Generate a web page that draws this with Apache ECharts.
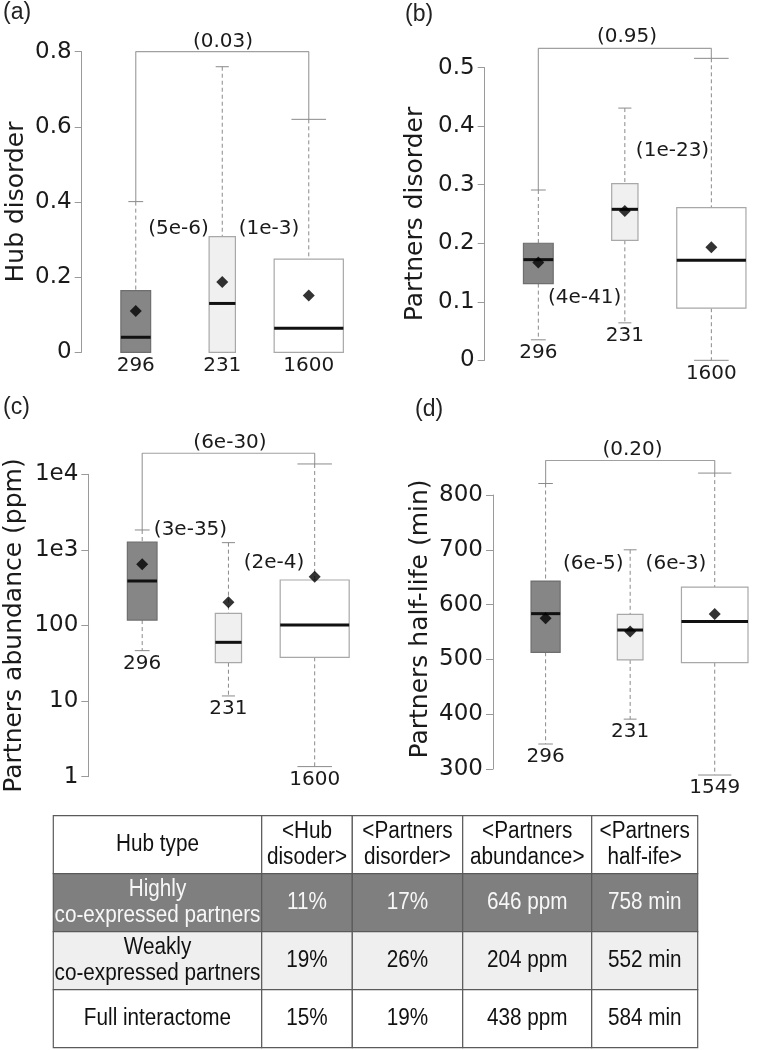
<!DOCTYPE html>
<html><head><meta charset="utf-8">
<script src="https://cdn.jsdelivr.net/npm/echarts@6/dist/echarts.min.js"></script>
<style>html,body{margin:0;padding:0;background:#fff}#c{width:757px;height:1050px}</style>
</head><body><div id="c"></div>
<script>
// ---------------- DATA ----------------
const groups = ['Highly co-expressed partners', 'Weakly co-expressed partners', 'Full interactome'];
const countsA = [296, 231, 1600];
const countsB = [296, 231, 1600];
const countsC = [296, 231, 1600];
const countsD = [296, 231, 1549];
// box stats: [lower whisker, Q1, median, Q3, upper whisker]
const hubDisorderBox = [[0, 0, 0.040, 0.164, 0.401], [0, 0, 0.130, 0.308, 0.760], [0, 0, 0.064, 0.248, 0.620]];
const hubDisorderMean = [0.110, 0.187, 0.151];
const partnersDisorderBox = [[0.035, 0.131, 0.172, 0.200, 0.291], [0.064, 0.205, 0.258, 0.302, 0.431], [0, 0.089, 0.171, 0.261, 0.516]];
const partnersDisorderMean = [0.167, 0.255, 0.193];
const partnersAbundanceBox = [[46.5, 118, 388, 1273, 1835], [11.7, 32.2, 59.9, 145, 1247], [1.36, 37.9, 101.5, 400, 13700]];
const partnersAbundanceMean = [644, 203, 443];
const partnersHalfLifeBox = [[345.6, 513, 583.5, 643, 821], [391, 499, 553.6, 582, 700], [289, 494, 569, 632, 840]];
const partnersHalfLifeMean = [575, 551, 583];
// p-value annotations: [overall bracket, group1 vs all, group2 vs all]
const pValuesA = ['(0.03)', '(5e-6)', '(1e-3)'];
const pValuesB = ['(0.95)', '(4e-41)', '(1e-23)'];
const pValuesC = ['(6e-30)', '(3e-35)', '(2e-4)'];
const pValuesD = ['(0.20)', '(6e-5)', '(6e-3)'];
const tickLabelsC = ['1', '10', '100', '1e3', '1e4'];
// table
const tableHeader = ['Hub type', '<Hub\ndisoder>', '<Partners\ndisorder>', '<Partners\nabundance>', '<Partners\nhalf-ife>'];
const tableRowNames = ['Highly\nco-expressed partners', 'Weakly\nco-expressed partners', 'Full interactome'];
const tableHubDisorder = ['11%', '19%', '15%'];
const tablePartnersDisorder = ['17%', '26%', '19%'];
const tablePartnersAbundance = ['646 ppm', '204 ppm', '438 ppm'];
const tablePartnersHalfLife = ['758 min', '552 min', '584 min'];

// ---------------- LAYOUT / STYLE ----------------
const FONT = 'DejaVu Sans';
const TFONT = 'Liberation Sans';
const boxFill = ['#868686', '#f0f0f0', '#ffffff'];
const boxStroke = ['#6e6e6e', '#a8a8a8', '#a8a8a8'];
const rowFill = ['#ffffff', '#7f7f7f', '#efefef', '#ffffff'];
const rowText = ['#111', '#f7f7f7', '#111', '#111'];

const panels = [
  { label: '(a)', labelPos: [3, 1], name: 'Hub disorder', box: hubDisorderBox, mean: hubDisorderMean, counts: countsA, p: pValuesA,
    grid: { left: 81.7, top: 51.7, width: 270.3, height: 300.6 }, xMin: 0.375, xMax: 3.5,
    y: { type: 'value', min: 0, max: 0.8, interval: 0.2 }, nameGap: 53, namePad: [0, 0, 0, 0], bracket: 0.8,
    pPos: [[2.009, 0.826], [1.495, 0.328], [2.541, 0.328]] },
  { label: '(b)', labelPos: [405, 3], name: 'Partners disorder', box: partnersDisorderBox, mean: partnersDisorderMean, counts: countsB, p: pValuesB,
    grid: { left: 484.7, top: 67.7, width: 269.9, height: 292.6 }, xMin: 0.38, xMax: 3.5,
    y: { type: 'value', min: 0, max: 0.5, interval: 0.1 }, nameGap: 57, namePad: [0, 0, 0, 0], bracket: 0.533,
    pPos: [[2.025, 0.5525], [1.534, 0.107], [2.551, 0.358]] },
  { label: '(c)', labelPos: [3, 396], name: 'Partners abundance (ppm)', box: partnersAbundanceBox, mean: partnersAbundanceMean, counts: countsC, p: pValuesC,
    grid: { left: 88.3, top: 474.3, width: 269.5, height: 302.4 }, xMin: 0.375, xMax: 3.5,
    y: { type: 'log', logBase: 10, min: 1, max: 10000 }, nameGap: 61, namePad: [0, 0, 0, 0], bracket: 19000,
    pPos: [[2.018, 25900], [1.56, 1833], [2.528, 671]] },
  { label: '(d)', labelPos: [415, 398], name: 'Partners half-life (min)', box: partnersHalfLifeBox, mean: partnersHalfLifeMean, counts: countsD, p: pValuesD,
    grid: { left: 493, top: 495, width: 269.9, height: 274 }, xMin: 0.378, xMax: 3.5,
    y: { type: 'value', min: 300, max: 800, interval: 100 }, nameGap: 60, namePad: [0, 0, 0, 26], bracket: 863,
    pPos: [[2.028, 882], [1.563, 674], [2.541, 674]] }
];
const tableGrid = { left: 53.3, top: 815.7, width: 644.4, height: 232 };
const colEdges = [0, 208.4, 299, 409.4, 538.4, 644.4];

// ---------------- BUILD ----------------
const grid = [], xAxis = [], yAxis = [], series = [], graphic = [];

function boxRender(params, api) {
  const i = params.dataIndex;
  const x = api.value(0);
  const low = api.value(1), q1 = api.value(2), med = api.value(3), q3 = api.value(4), high = api.value(5), n = api.value(6);
  const pMed = api.coord([x, med]);
  const cx = pMed[0];
  const unit = api.coord([x + 1, med])[0] - cx;
  const w = Math.sqrt(n) / 40 * 0.8 * unit;
  const yLow = api.coord([x, low])[1], yQ1 = api.coord([x, q1])[1], yQ3 = api.coord([x, q3])[1], yHigh = api.coord([x, high])[1];
  const dash = { stroke: '#8a8a8a', lineWidth: 1, lineDash: [4, 3] };
  const cap = { stroke: '#8a8a8a', lineWidth: 1 };
  return { type: 'group', children: [
    { type: 'line', shape: { x1: cx, y1: yHigh, x2: cx, y2: yQ3 }, style: dash },
    { type: 'line', shape: { x1: cx, y1: yQ1, x2: cx, y2: yLow }, style: dash },
    { type: 'line', shape: { x1: cx - w / 4, y1: yHigh, x2: cx + w / 4, y2: yHigh }, style: cap },
    { type: 'line', shape: { x1: cx - w / 4, y1: yLow, x2: cx + w / 4, y2: yLow }, style: cap },
    { type: 'rect', shape: { x: cx - w / 2, y: yQ3, width: w, height: yQ1 - yQ3 }, style: { fill: boxFill[i], stroke: boxStroke[i], lineWidth: 1.2 } },
    { type: 'line', shape: { x1: cx - w / 2, y1: pMed[1], x2: cx + w / 2, y2: pMed[1] }, style: { stroke: '#111', lineWidth: 3 } },
    { type: 'text', x: cx, y: yLow + 13, style: { text: String(n), fontFamily: FONT, fontSize: 20, fill: '#1a1a1a', align: 'center', verticalAlign: 'middle' } }
  ] };
}

panels.forEach((P, k) => {
  grid.push(P.grid);
  xAxis.push({ type: 'value', gridIndex: k, min: P.xMin, max: P.xMax, show: false });
  const ya = Object.assign({
    gridIndex: k, name: P.name, nameLocation: 'middle', nameGap: P.nameGap,
    nameTextStyle: { fontFamily: FONT, fontSize: 25, color: '#1a1a1a', padding: P.namePad },
    axisLine: { show: true, lineStyle: { color: '#9a9a9a', width: 1 } },
    axisTick: { show: true, length: 7, lineStyle: { color: '#9a9a9a' } },
    axisLabel: { fontFamily: FONT, fontSize: 23, color: '#1a1a1a', margin: 10, showMinLabel: true, showMaxLabel: true },
    splitLine: { show: false }, minorTick: { show: false }
  }, P.y);
  if (P.y.type === 'log') ya.axisLabel.formatter = v => tickLabelsC[Math.round(Math.log10(v))];
  yAxis.push(ya);
  // boxes
  series.push({ type: 'custom', xAxisIndex: k, yAxisIndex: k, renderItem: boxRender, clip: false, z: 2,
    encode: { x: 0, y: [1, 2, 3, 4, 5] },
    data: P.box.map((b, i) => [i + 1, b[0], b[1], b[2], b[3], b[4], P.counts[i]]) });
  // bracket
  series.push({ type: 'line', xAxisIndex: k, yAxisIndex: k, clip: false, symbol: 'none', showSymbol: false, silent: true, z: 1,
    lineStyle: { color: '#a0a0a0', width: 1.2 },
    data: [[1, P.box[0][4]], [1, P.bracket], [3, P.bracket], [3, P.box[2][4]]] });
  // means
  series.push({ type: 'scatter', xAxisIndex: k, yAxisIndex: k, symbol: 'diamond', symbolSize: 12, clip: false, z: 5,
    itemStyle: { color: '#000' }, data: P.mean.map((m, i) => [i + 1, m]) });
  // p-values
  series.push({ type: 'custom', xAxisIndex: k, yAxisIndex: k, clip: false, z: 6,
    data: P.pPos.map((pp, i) => [pp[0], pp[1], i]),
    renderItem: (params, api) => {
      const pt = api.coord([api.value(0), api.value(1)]);
      return { type: 'text', x: pt[0], y: pt[1], style: { text: P.p[params.dataIndex], fontFamily: FONT, fontSize: 20, fill: '#1a1a1a', align: 'center', verticalAlign: 'middle' } };
    } });
  graphic.push({ type: 'text', left: P.labelPos[0], top: P.labelPos[1], style: { text: P.label, font: '23px "Liberation Sans"', fill: '#222' } });
});

// table
const tIdx = panels.length;
grid.push(tableGrid);
xAxis.push({ type: 'value', gridIndex: tIdx, min: 0, max: colEdges[colEdges.length - 1], show: false });
yAxis.push({ type: 'value', gridIndex: tIdx, min: 0, max: 4, inverse: true, show: false });
const tableCols = [tableRowNames, tableHubDisorder, tablePartnersDisorder, tablePartnersAbundance, tablePartnersHalfLife];
const cells = [];
for (let r = 0; r < 4; r++) for (let c = 0; c < 5; c++) cells.push([c, r]);
series.push({ type: 'custom', xAxisIndex: tIdx, yAxisIndex: tIdx, clip: false, data: cells,
  renderItem: (params, api) => {
    const c = api.value(0), r = api.value(1);
    const p0 = api.coord([colEdges[c], r]), p1 = api.coord([colEdges[c + 1], r + 1]);
    const text = r === 0 ? tableHeader[c] : tableCols[c][r - 1];
    return { type: 'group', children: [
      { type: 'rect', shape: { x: p0[0], y: p0[1], width: p1[0] - p0[0], height: p1[1] - p0[1] }, style: { fill: rowFill[r], stroke: '#5a5a5a', lineWidth: 1.2 } },
      { type: 'text', x: (p0[0] + p1[0]) / 2, y: (p0[1] + p1[1]) / 2, scaleX: 0.9, style: { text: text, fontFamily: TFONT, fontSize: 23, lineHeight: 26, fill: rowText[r], align: 'center', verticalAlign: 'middle' } }
    ] };
  } });

const chart = echarts.init(document.getElementById('c'), null, { renderer: 'canvas' });
chart.setOption({ animation: false, backgroundColor: '#fff', grid, xAxis, yAxis, series, graphic, tooltip: { show: false } });
</script></body></html>
